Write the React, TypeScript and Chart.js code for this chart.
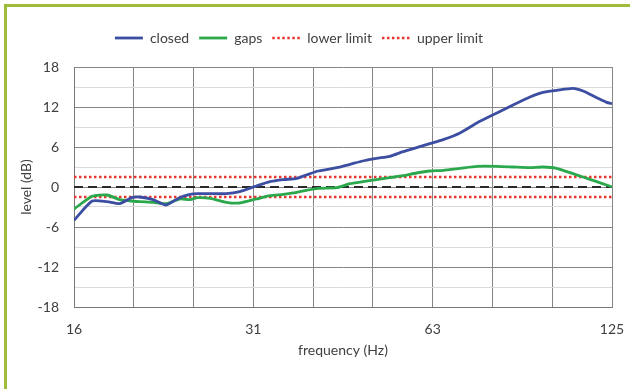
import React, { useEffect, useRef } from "react";
import { Chart, registerables } from "chart.js";

Chart.register(...registerables);

// third-octave band centres (grid) and their printed labels
const bandCenters = [15.85, 19.95, 25.12, 31.62, 39.81, 50.12, 63.1, 79.43, 100, 125.89];
const bandLabels = ["16", "", "", "31", "", "", "63", "", "", "125"];

// measurement frequencies (Hz)
const freqs = [
  15.85, 17.0, 18.0, 18.9, 19.8, 20.4, 21.5, 22.6, 23.8, 24.8, 25.5, 26.8, 28.5, 30.0,
  32.0, 33.7, 35.5, 37.4, 38.8, 40.6, 43.6, 45.9, 48.2, 50.8, 53.5, 56.3, 59.3, 62.4,
  65.7, 70.1, 74.8, 80.8, 86.0, 91.8, 96.5, 101.7, 108.3, 112.6, 118.7, 123.3, 125.89,
];

const closed = [
  -5.0, -2.1, -2.2, -2.5, -1.6, -1.5, -1.9, -2.7, -1.6, -1.1, -1.0, -1.0, -1.0, -0.7,
  0.15, 0.8, 1.1, 1.3, 1.8, 2.4, 2.9, 3.4, 3.9, 4.3, 4.6, 5.3, 5.9, 6.5,
  7.1, 8.1, 9.6, 11.1, 12.3, 13.5, 14.2, 14.5, 14.8, 14.4, 13.4, 12.7, 12.5,
];

const gaps = [
  -3.3, -1.4, -1.2, -1.9, -2.1, -2.2, -2.3, -2.5, -1.8, -1.9, -1.6, -1.7, -2.3, -2.4,
  -1.8, -1.3, -1.1, -0.8, -0.5, -0.2, -0.1, 0.5, 0.8, 1.1, 1.4, 1.7, 2.1, 2.4,
  2.5, 2.8, 3.1, 3.1, 3.0, 2.9, 3.0, 2.8, 2.0, 1.5, 0.8, 0.3, 0.0,
];

const lowerLimit = -1.5;
const upperLimit = 1.5;
const yTicks = [-18, -12, -6, 0, 6, 12, 18];

const FONT = "Lato";
const TEXT = "#404040";

const legendGap = {
  id: "legendGap",
  beforeInit(chart: any) {
    const orig = chart.legend.fit;
    chart.legend.fit = function () {
      orig.call(this);
      this.height += 12;
    };
  },
  afterLayout(chart: any) {
    if (chart.legend) {
      chart.legend.left -= 12;
      chart.legend.right -= 12;
    }
  },
};

export default function App() {
  const ref = useRef<HTMLCanvasElement | null>(null);

  useEffect(() => {
    if (!ref.current) return;
    const fMin = bandCenters[0];
    const fMax = bandCenters[bandCenters.length - 1];
    const pts = (ys: number[]) => freqs.map((f, i) => ({ x: f, y: ys[i] }));
    const flat = (v: number) => [
      { x: fMin, y: v },
      { x: fMax, y: v },
    ];

    const chart = new Chart(ref.current, {
      type: "line",
      plugins: [legendGap],
      data: {
        datasets: [
          {
            label: "closed",
            data: pts(closed),
            borderColor: "#3c4ea1",
            backgroundColor: "#3c4ea1",
            borderWidth: 2.8,
            pointRadius: 0,
            tension: 0.2,
          },
          {
            label: "gaps",
            data: pts(gaps),
            borderColor: "#2ba84c",
            backgroundColor: "#2ba84c",
            borderWidth: 2.8,
            pointRadius: 0,
            tension: 0.2,
          },
          {
            label: "lower limit",
            data: flat(lowerLimit),
            borderColor: "#e8352e",
            backgroundColor: "#e8352e",
            borderWidth: 2.5,
            borderDash: [2.5, 2.5],
            pointRadius: 0,
          },
          {
            label: "upper limit",
            data: flat(upperLimit),
            borderColor: "#e8352e",
            backgroundColor: "#e8352e",
            borderWidth: 2.5,
            borderDash: [2.5, 2.5],
            pointRadius: 0,
          },
          {
            label: "zero",
            data: flat(0),
            borderColor: "#2a2a2a",
            backgroundColor: "#2a2a2a",
            borderWidth: 2.2,
            borderDash: [9, 5],
            pointRadius: 0,
          },
        ],
      },
      options: {
        responsive: false,
        animation: false,
        events: [],
        layout: { padding: { left: 10, right: 18, top: 21, bottom: 20 } },
        plugins: {
          tooltip: { enabled: false },
          legend: {
            position: "top",
            labels: {
              color: TEXT,
              font: { family: FONT, size: 14 },
              usePointStyle: true,
              pointStyleWidth: 28,
              padding: 10,
              generateLabels: (c: any) =>
                c.data.datasets
                  .map((ds: any, i: number) => ({
                    text: ds.label,
                    fillStyle: ds.borderColor,
                    strokeStyle: ds.borderColor,
                    lineWidth: ds.borderWidth,
                    lineDash: ds.borderDash || [],
                    lineCap: "butt",
                    pointStyle: "line",
                    hidden: false,
                    datasetIndex: i,
                    fontColor: TEXT,
                  }))
                  .filter((l: any) => l.text !== "zero"),
            },
          },
        },
        scales: {
          x: {
            type: "logarithmic",
            min: fMin,
            max: fMax,
            afterBuildTicks: (s: any) => {
              s.ticks = bandCenters.map((v) => ({ value: v }));
            },
            afterFit: (s: any) => {
              s.height = 62;
              s.paddingLeft = 0;
              s.paddingRight = 0;
            },
            ticks: {
              autoSkip: false,
              maxRotation: 0,
              padding: 14,
              color: TEXT,
              font: { family: FONT, size: 14 },
              callback: (_v: any, i: number) => bandLabels[i],
            },
            grid: { color: "#858585", lineWidth: 1, drawTicks: false },
            border: { color: "#777777", width: 1 },
            title: {
              display: true,
              text: "frequency (Hz)",
              color: TEXT,
              font: { family: FONT, size: 14 },
              padding: { top: 0, bottom: 10 },
            },
          },
          y: {
            min: -18,
            max: 18,
            afterFit: (s: any) => {
              s.width = 64;
            },
            ticks: {
              stepSize: 3,
              padding: 15,
              color: TEXT,
              font: { family: FONT, size: 14 },
              callback: (v: any) => (yTicks.includes(Number(v)) ? String(v) : ""),
            },
            grid: {
              drawTicks: false,
              lineWidth: 1,
              color: (ctx: any) =>
                ctx.tick && yTicks.includes(ctx.tick.value) ? "#858585" : "#dadada",
            },
            border: { color: "#777777", width: 1 },
            title: {
              display: true,
              text: "level (dB)",
              color: TEXT,
              font: { family: FONT, size: 14 },
              padding: { top: 8, bottom: 0 },
            },
          },
        },
      },
    } as any);

    return () => chart.destroy();
  }, []);

  return (
    <div style={{ position: "absolute", left: 0, top: 0, width: 630, height: 389, background: "#ffffff", overflow: "hidden" }}>
      <div
        style={{
          position: "absolute",
          left: 4,
          top: 4,
          width: 700,
          height: 383,
          borderLeft: "3px solid #9fbd3a",
          borderTop: "3px solid #9fbd3a",
          borderBottom: "1px solid #e4ecca",
        }}
      />
      <canvas ref={ref} width={630} height={389} style={{ position: "absolute", left: 0, top: 0 }} />
    </div>
  );
}
